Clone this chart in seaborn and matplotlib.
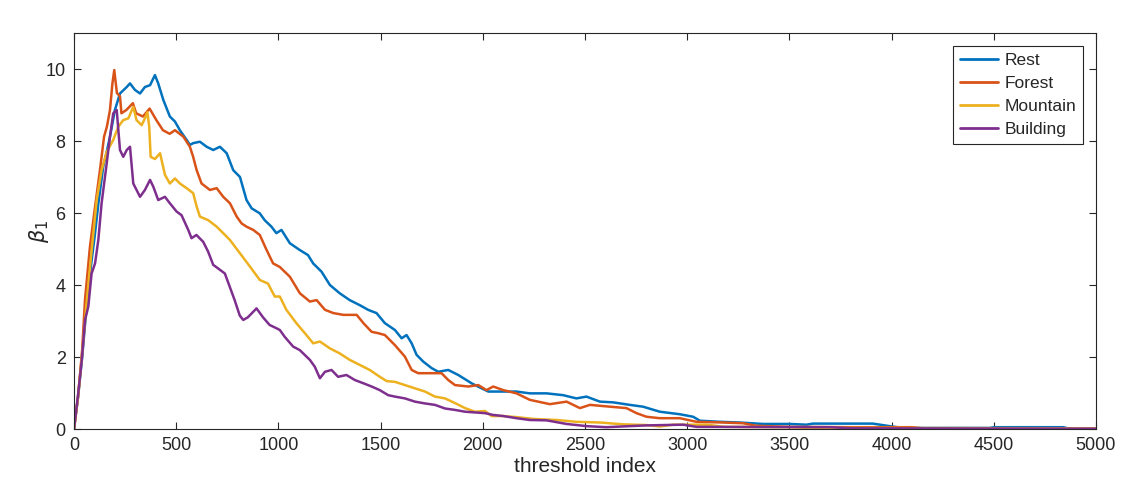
import numpy as np
import pandas as pd
import matplotlib
matplotlib.use("Agg")
import matplotlib.pyplot as plt
import seaborn as sns

series_names = ["Rest", "Forest", "Mountain", "Building"]

rest_x = [0, 20, 40, 60, 80, 100, 120, 143, 160, 176, 200, 225, 258, 274, 298, 323, 347, 372, 396, 412, 437, 469, 494, 518, 551, 567, 583, 616, 649, 681, 714, 747, 779, 812, 844, 869, 909, 933, 966, 990, 1015, 1056, 1105, 1145, 1170, 1211, 1252, 1300, 1349, 1398, 1439, 1480, 1521, 1570, 1603, 1627, 1652, 1676, 1709, 1750, 1782, 1831, 1880, 1945, 1994, 2027, 2100, 2165, 2230, 2312, 2393, 2458, 2507, 2573, 2638, 2719, 2784, 2866, 2964, 3029, 3062, 3160, 3258, 3371, 3502, 3583, 3616, 3746, 3908, 3990, 4055, 4480, 4500, 4840, 4860, 5000]
rest_y = [0, 0.9, 2.0, 3.3, 4.4, 5.3, 6.3, 7.29, 7.7, 8.12, 8.86, 9.32, 9.5, 9.6, 9.42, 9.32, 9.5, 9.55, 9.83, 9.6, 9.14, 8.68, 8.54, 8.3, 8.03, 7.89, 7.94, 7.98, 7.84, 7.75, 7.84, 7.66, 7.19, 7.0, 6.36, 6.13, 5.99, 5.8, 5.62, 5.44, 5.53, 5.16, 4.97, 4.83, 4.6, 4.37, 4.0, 3.77, 3.58, 3.44, 3.31, 3.22, 2.94, 2.75, 2.52, 2.61, 2.38, 2.06, 1.87, 1.69, 1.59, 1.64, 1.5, 1.27, 1.13, 1.04, 1.04, 1.04, 0.99, 0.99, 0.94, 0.85, 0.9, 0.76, 0.74, 0.67, 0.62, 0.48, 0.41, 0.34, 0.23, 0.2, 0.18, 0.14, 0.14, 0.12, 0.15, 0.15, 0.15, 0.08, 0.03, 0.03, 0.05, 0.05, 0.02, 0.02]

forest_x = [0, 20, 40, 54, 78, 103, 127, 147, 161, 176, 188, 197, 210, 225, 232, 256, 288, 304, 337, 370, 403, 435, 468, 494, 535, 567, 583, 600, 624, 665, 698, 730, 763, 796, 820, 844, 877, 909, 940, 974, 1007, 1056, 1105, 1154, 1187, 1228, 1269, 1318, 1383, 1416, 1456, 1489, 1521, 1570, 1619, 1652, 1684, 1733, 1798, 1831, 1864, 1929, 1978, 2018, 2051, 2100, 2165, 2230, 2328, 2410, 2475, 2524, 2622, 2703, 2752, 2801, 2866, 2964, 3045, 3176, 3273, 3338, 3500, 3800, 4100, 4150, 5000]
forest_y = [0, 0.9, 2.2, 3.6, 5.06, 6.17, 7.19, 8.12, 8.4, 8.86, 9.6, 9.97, 9.33, 9.24, 8.77, 8.86, 9.05, 8.77, 8.68, 8.9, 8.58, 8.3, 8.2, 8.3, 8.12, 7.84, 7.56, 7.19, 6.82, 6.64, 6.69, 6.45, 6.27, 5.9, 5.71, 5.62, 5.53, 5.39, 5.0, 4.6, 4.5, 4.23, 3.77, 3.54, 3.58, 3.31, 3.22, 3.17, 3.17, 2.94, 2.7, 2.66, 2.61, 2.33, 2.01, 1.64, 1.55, 1.55, 1.55, 1.36, 1.22, 1.18, 1.22, 1.08, 1.18, 1.08, 0.99, 0.81, 0.69, 0.76, 0.58, 0.67, 0.62, 0.58, 0.44, 0.34, 0.3, 0.3, 0.2, 0.18, 0.16, 0.09, 0.06, 0.05, 0.05, 0.02, 0.02]

mountain_x = [0, 20, 40, 60, 80, 111, 135, 160, 192, 217, 241, 266, 290, 306, 331, 347, 359, 368, 375, 396, 421, 445, 469, 494, 518, 551, 583, 600, 616, 657, 698, 730, 763, 812, 861, 909, 949, 982, 1007, 1039, 1088, 1137, 1170, 1203, 1252, 1300, 1349, 1398, 1447, 1496, 1530, 1570, 1619, 1668, 1717, 1766, 1815, 1864, 1913, 1962, 2011, 2043, 2100, 2165, 2247, 2361, 2458, 2573, 2687, 2801, 2866, 2931, 3095, 3180, 3500, 3600, 5000]
mountain_y = [0, 0.9, 2.1, 3.4, 4.6, 6.36, 7.19, 7.7, 8.03, 8.4, 8.58, 8.63, 8.95, 8.58, 8.44, 8.63, 8.8, 8.4, 7.56, 7.5, 7.66, 7.06, 6.82, 6.96, 6.82, 6.69, 6.55, 6.18, 5.9, 5.8, 5.62, 5.44, 5.25, 4.88, 4.51, 4.14, 4.04, 3.68, 3.68, 3.31, 2.94, 2.61, 2.38, 2.43, 2.24, 2.1, 1.92, 1.78, 1.64, 1.45, 1.33, 1.31, 1.22, 1.13, 1.04, 0.9, 0.85, 0.72, 0.58, 0.48, 0.5, 0.36, 0.36, 0.33, 0.28, 0.25, 0.2, 0.18, 0.13, 0.11, 0.07, 0.12, 0.12, 0.06, 0.05, 0.03, 0.02]

building_x = [0, 20, 38, 54, 70, 86, 103, 119, 135, 160, 176, 192, 209, 217, 225, 241, 258, 274, 290, 298, 323, 347, 372, 388, 412, 445, 469, 502, 526, 559, 575, 599, 632, 656, 681, 705, 738, 762, 786, 811, 828, 850, 893, 925, 957, 990, 1007, 1031, 1072, 1105, 1154, 1178, 1203, 1228, 1260, 1292, 1333, 1374, 1416, 1456, 1496, 1537, 1570, 1619, 1668, 1717, 1766, 1815, 1864, 1913, 1962, 2011, 2051, 2100, 2165, 2230, 2312, 2410, 2507, 2605, 2719, 2801, 2980, 3045, 3700, 3800, 5000]
building_y = [0, 0.95, 1.92, 3.03, 3.4, 4.32, 4.6, 5.25, 6.27, 7.38, 8.12, 8.77, 8.86, 8.3, 7.75, 7.56, 7.75, 7.84, 6.82, 6.73, 6.45, 6.64, 6.92, 6.73, 6.36, 6.45, 6.27, 6.04, 5.94, 5.53, 5.3, 5.39, 5.2, 4.93, 4.56, 4.46, 4.32, 3.95, 3.58, 3.15, 3.03, 3.1, 3.35, 3.1, 2.89, 2.8, 2.75, 2.56, 2.29, 2.19, 1.92, 1.73, 1.41, 1.59, 1.64, 1.45, 1.5, 1.36, 1.27, 1.18, 1.08, 0.94, 0.9, 0.85, 0.76, 0.71, 0.67, 0.57, 0.53, 0.48, 0.46, 0.44, 0.39, 0.36, 0.3, 0.25, 0.24, 0.14, 0.08, 0.05, 0.08, 0.1, 0.12, 0.06, 0.05, 0.02, 0.01]

x_ticks = [0, 500, 1000, 1500, 2000, 2500, 3000, 3500, 4000, 4500, 5000]
y_ticks = [0, 2, 4, 6, 8, 10]
colors = ["#0072BD", "#D95319", "#EDB120", "#7E2F8E"]

frames = []
for name, xs, ys in zip(series_names,
                        [rest_x, forest_x, mountain_x, building_x],
                        [rest_y, forest_y, mountain_y, building_y]):
    frames.append(pd.DataFrame({"x": xs, "y": ys, "series": name}))
df = pd.concat(frames, ignore_index=True)

sns.set_style("white")
plt.rcParams["font.family"] = ["Liberation Sans", "DejaVu Sans"]

fig = plt.figure(figsize=(11.33, 4.98), dpi=100)
ax = fig.add_axes([74 / 1133, 1 - 429 / 498, (1096 - 74) / 1133, (429 - 33) / 498])

sns.lineplot(data=df, x="x", y="y", hue="series", hue_order=series_names,
             palette=colors, estimator=None, sort=False, linewidth=1.8, ax=ax)

ax.set_xlim(0, 5000)
ax.set_ylim(0, 11)
ax.set_xticks(x_ticks)
ax.set_yticks(y_ticks)
ax.tick_params(direction="in", length=5, width=0.8, labelsize=13, colors="#262626",
               top=True, right=True, bottom=True, left=True, pad=6)
for s in ax.spines.values():
    s.set_visible(True)
    s.set_color("#262626")
    s.set_linewidth(0.8)
ax.set_xlabel("threshold index", fontsize=15, color="#262626", labelpad=2)
ax.set_ylabel(r"$\beta_1$", fontsize=15, color="#262626", labelpad=-4)

leg = ax.legend(loc="upper right", fontsize=12.5, frameon=True, fancybox=False,
                edgecolor="#262626", handlelength=2.2, borderaxespad=0.75,
                labelspacing=0.45, borderpad=0.4, handletextpad=0.35)
leg.get_frame().set_linewidth(0.8)
leg.get_frame().set_alpha(1)
for line in leg.get_lines():
    line.set_linewidth(2)

fig.savefig("out.png", dpi=100)
